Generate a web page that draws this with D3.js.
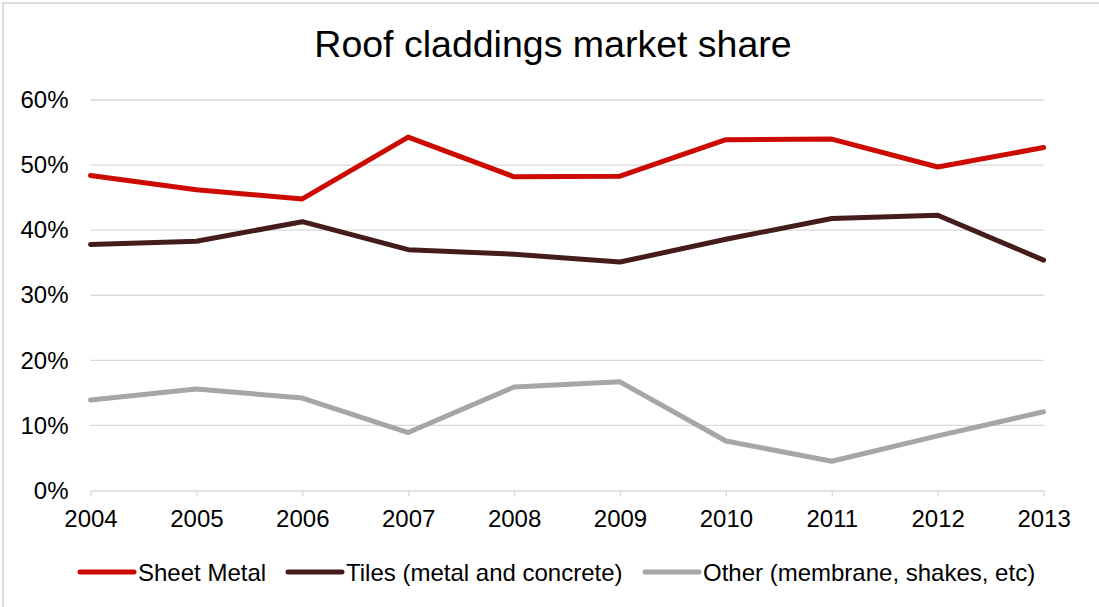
<!DOCTYPE html>
<html>
<head>
<meta charset="utf-8">
<script src="https://cdn.jsdelivr.net/npm/d3@7"></script>
<style>
  html, body { margin: 0; padding: 0; background: #fff; }
  svg { display: block; font-family: "Liberation Sans", Arial, sans-serif; }
</style>
</head>
<body>
<svg id="chart" width="1099" height="607"></svg>
<script>
// Roof cladding market share by year
const years = ["2004","2005","2006","2007","2008","2009","2010","2011","2012","2013"];
const sheetMetal = [0.484, 0.462, 0.448, 0.543, 0.482, 0.483, 0.539, 0.540, 0.497, 0.527];
const tiles      = [0.378, 0.383, 0.413, 0.370, 0.363, 0.351, 0.386, 0.418, 0.423, 0.354];
const other      = [0.139, 0.156, 0.142, 0.089, 0.159, 0.167, 0.076, 0.045, 0.084, 0.121];
const yTicks = [0, 0.1, 0.2, 0.3, 0.4, 0.5, 0.6];

const seriesNames = ["Sheet Metal", "Tiles (metal and concrete)", "Other (membrane, shakes, etc)"];
const seriesValues = [sheetMetal, tiles, other];
const seriesColors = ["#CC0A00", "#451C1C", "#A6A6A6"];

const svg = d3.select("#chart");
const W = 1099, H = 607;
const m = { left: 90.5, right: 1043.6, top: 100, bottom: 490.5 };

// outer chart frame
svg.append("rect")
  .attr("x", 3).attr("y", 3)
  .attr("width", W + 10).attr("height", H + 10)
  .attr("fill", "#fff").attr("stroke", "#DCDCDC").attr("stroke-width", 2);

// title
svg.append("text")
  .attr("x", 553).attr("y", 57)
  .attr("text-anchor", "middle")
  .attr("font-size", 37.5)
  .attr("fill", "#000")
  .text("Roof claddings market share");

const x = d3.scalePoint().domain(years).range([m.left, m.right]);
const y = d3.scaleLinear().domain([0, 0.6]).range([m.bottom, m.top]);

// horizontal gridlines
svg.append("g")
  .selectAll("line")
  .data(yTicks.filter(d => d > 0))
  .join("line")
  .attr("x1", m.left).attr("x2", m.right)
  .attr("y1", d => y(d)).attr("y2", d => y(d))
  .attr("stroke", "#D9D9D9").attr("stroke-width", 1.3);

// y axis labels
const yAxis = d3.axisLeft(y)
  .tickValues(yTicks)
  .tickFormat(d3.format(".0%"))
  .tickSize(0)
  .tickPadding(22);
const gy = svg.append("g").attr("transform", `translate(${m.left},0)`).call(yAxis);
gy.select(".domain").remove();
gy.selectAll("text").attr("font-size", 24).attr("fill", "#000")
  .attr("font-family", "Liberation Sans, Arial, sans-serif");

// x axis with downward ticks
const xAxis = d3.axisBottom(x).tickSizeInner(6).tickSizeOuter(0).tickPadding(13);
const gx = svg.append("g").attr("transform", `translate(0,${m.bottom})`).call(xAxis);
gx.select(".domain").attr("stroke", "#D9D9D9").attr("stroke-width", 1.3);
gx.selectAll(".tick line").attr("stroke", "#D9D9D9").attr("stroke-width", 1.3);
gx.selectAll("text").attr("font-size", 24).attr("fill", "#000")
  .attr("font-family", "Liberation Sans, Arial, sans-serif");

// series lines
const line = d3.line()
  .x((d, i) => x(years[i]))
  .y(d => y(d));

svg.append("g")
  .selectAll("path")
  .data(seriesValues)
  .join("path")
  .attr("d", d => line(d))
  .attr("fill", "none")
  .attr("stroke", (d, i) => seriesColors[i])
  .attr("stroke-width", 5)
  .attr("stroke-linejoin", "round")
  .attr("stroke-linecap", "round");

// legend
const legendX = [80, 288, 645];
const legend = svg.append("g").attr("transform", "translate(0,572)");
const items = legend.selectAll("g")
  .data(seriesNames)
  .join("g")
  .attr("transform", (d, i) => `translate(${legendX[i]},0)`);
items.append("line")
  .attr("x1", 0).attr("x2", 54)
  .attr("y1", 0).attr("y2", 0)
  .attr("stroke", (d, i) => seriesColors[i])
  .attr("stroke-width", 5)
  .attr("stroke-linecap", "round");
items.append("text")
  .attr("x", 58).attr("y", 8.5)
  .attr("font-size", 24)
  .attr("fill", "#000")
  .text(d => d);
</script>
</body>
</html>
